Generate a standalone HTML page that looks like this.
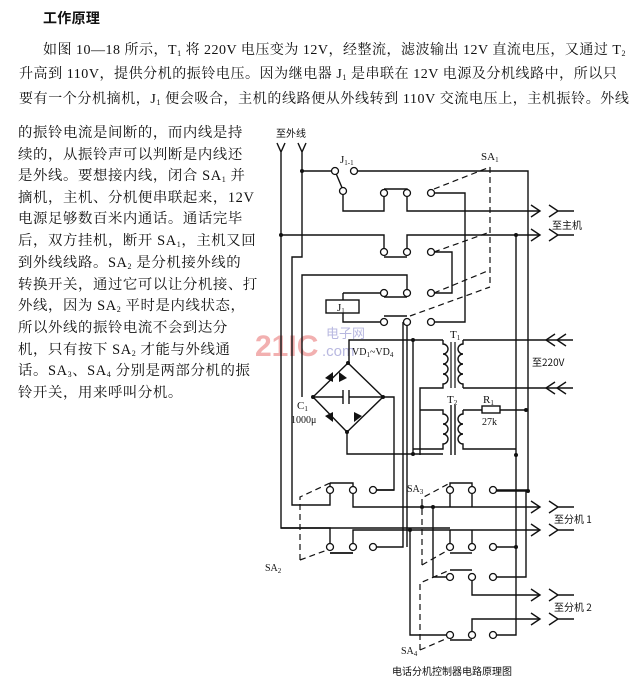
<!DOCTYPE html>
<html><head><meta charset="utf-8"><style>
body{margin:0;width:638px;height:686px;background:#fff;overflow:hidden;position:relative;font-family:"Liberation Serif","Noto Serif CJK SC","Noto Sans CJK SC",serif;color:#111}
.t{position:absolute;font-size:14px;white-space:nowrap;letter-spacing:0.3px}
.l{position:absolute;left:18px;font-size:14.4px;white-space:nowrap;letter-spacing:0.6px}
sub{font-size:8px;vertical-align:-2px}
</style></head><body>
<div class="t" style="left:43px;top:8px;font-weight:bold;font-family:'Noto Sans CJK SC',sans-serif">工作原理</div>
<div class="t" style="left:43px;top:39px;letter-spacing:0.5px">如图 10—18 所示，T<sub>1</sub> 将 220V 电压变为 12V，经整流，滤波输出 12V 直流电压，又通过 T<sub>2</sub></div>
<div class="t" style="left:19px;top:63px;letter-spacing:0.55px">升高到 110V，提供分机的振铃电压。因为继电器 J<sub>1</sub> 是串联在 12V 电源及分机线路中，所以只</div>
<div class="t" style="left:19px;top:88px;letter-spacing:0.6px">要有一个分机摘机，J<sub>1</sub> 便会吸合，主机的线路便从外线转到 110V 交流电压上，主机振铃。外线</div>
<div class="l" style="top:121px">的振铃电流是间断的，而内线是持</div>
<div class="l" style="top:143px">续的，从振铃声可以判断是内线还</div>
<div class="l" style="top:164px">是外线。要想接内线，闭合 SA<sub>1</sub> 并</div>
<div class="l" style="top:186px">摘机，主机、分机便串联起来，12V</div>
<div class="l" style="top:207px">电源足够数百米内通话。通话完毕</div>
<div class="l" style="top:229px">后，双方挂机，断开 SA<sub>1</sub>，主机又回</div>
<div class="l" style="top:251px">到外线线路。SA<sub>2</sub> 是分机接外线的</div>
<div class="l" style="top:273px">转换开关，通过它可以让分机接、打</div>
<div class="l" style="top:294px">外线，因为 SA<sub>2</sub> 平时是内线状态，</div>
<div class="l" style="top:316px">所以外线的振铃电流不会到达分</div>
<div class="l" style="top:338px">机，只有按下 SA<sub>2</sub> 才能与外线通</div>
<div class="l" style="top:359px">话。SA<sub>3</sub>、SA<sub>4</sub> 分别是两部分机的振</div>
<div class="l" style="top:381px">铃开关，用来呼叫分机。</div>

<svg width="638" height="686" style="position:absolute;left:0;top:0" xmlns="http://www.w3.org/2000/svg">
<text x="255" y="356" font-family="Liberation Sans,sans-serif" font-weight="bold" font-size="30" fill="#f2b0b0">21IC</text>
<text x="326" y="338" font-family="Noto Sans CJK SC,sans-serif" font-size="13" fill="#b8b8e0">电子网</text>
<text x="322" y="356" font-family="Liberation Sans,sans-serif" font-size="15" fill="#b8b8e0">.com</text>
<g fill="none" stroke="#111" stroke-width="1.4">
<path d="M277,143 L281,152 L285,143 M281,152 V528 H450"/>
<path d="M298,143 L302,152 L306,143 M302,152 V257 H292 V505 H330 V490"/>
<path d="M302,171 H335 M335,171 L343,190 M354,171 H528 V491 H493"/>
<path d="M343,191 V211 H384 V193 M384,189 H407 V193 M407,197 V211 H540"/>
<path d="M431,193 H465 V322 H431"/>
<path d="M281,235 H384 V252 M407,252 V235 H540 M384,257 H407 M431,252 H452 V293 H431"/>
<path d="M516,235 V635 H493"/>
<path d="M302,397 V275 H407 V293 M343,293 H384 M384,297 H407 M343,293 V300 M343,313 V322 H384 M384,316 H407"/>
<rect x="326" y="300" width="33" height="13"/>
<path d="M407,322 V547 M349,363 V340 H443"/>
<path d="M413,340 V455"/>
<path d="M348,363 L313,397 L347,432 L383,397 Z"/>
<path d="M313,397 H343 M349,397 H383 M343,390 V404 M349,390 V404"/>
<path d="M383,397 H394 V490 H373 M347,432 V454 H443"/>
<path d="M443,340 v4 a5,5 0 0 1 0,10 a5,5 0 0 1 0,10 a5,5 0 0 1 0,10 a5,5 0 0 1 0,10 v4 H420 V455 M463,340 v4 a5,5 0 0 0 0,10 a5,5 0 0 0 0,10 a5,5 0 0 0 0,10 a5,5 0 0 0 0,10 v4"/>
<path d="M451,342 V388 M455,342 V388" stroke-width="1.2"/>
<path d="M463,340 H573 M463,388 H573"/>
<path d="M420,410 H443 v4 a5,5 0 0 1 0,10 a5,5 0 0 1 0,10 a5,5 0 0 1 0,10 v5 H413 M463,410 v4 a5,5 0 0 0 0,10 a5,5 0 0 0 0,10 a5,5 0 0 0 0,10 v5 H516 M451,405 V455 M455,405 V455"/>
<path d="M463,410 H482 M500,410 H528"/>
<rect x="482" y="406" width="18" height="7"/>
<path d="M330,490 V483 M330,483 H353 V490 M353,494 V507 H540 M373,490 H394"/>
<path d="M281,528 H330 V547 M353,547 V530 H540 M330,553 H353 M373,547 H403 V322"/>
<path d="M450,490 V483 H472 V490 M450,494 V507 M472,494 V507 M493,490 H528 M450,547 V530 M472,547 V530 M493,547 H516"/>
<path d="M433,507 V577 H450 M410,530 V635 H450 M472,581 V595 H540 M472,631 V619 H540 M493,577 H526 V491 M450,570 H472"/>
<path d="M330,553 H353 M450,553 H472 M450,640 H472"/>
<path d="M531,205 L540,211 L531,217 M549,205 L558,211 L549,217 M558,211 H574"/>
<path d="M531,229 L540,235 L531,241 M549,229 L558,235 L549,241 M558,235 H574"/>
<path d="M531,501 L540,507 L531,513 M549,501 L558,507 L549,513 M558,507 H574"/>
<path d="M531,524 L540,530 L531,536 M549,524 L558,530 L549,536 M558,530 H574"/>
<path d="M531,589 L540,595 L531,601 M549,589 L558,595 L549,601 M558,595 H574"/>
<path d="M531,613 L540,619 L531,625 M549,613 L558,619 L549,625 M558,619 H574"/>
<path d="M555,334 L546,340 L555,346 M566,334 L557,340 L566,346"/>
<path d="M555,382 L546,388 L555,394 M566,382 L557,388 L566,394"/>
<g stroke-dasharray="6,4" stroke-width="1.2">
<path d="M490,167 V287 M434,189 L490,167 M434,252 L490,232 M434,293 L490,270 M410,316 L490,287"/>
<path d="M300,560 V497 L330,483 M300,560 L330,549"/>
<path d="M422,565 V498 L450,483 M422,565 L450,549"/>
<path d="M420,650 V583 L450,570 M420,650 L450,637"/>
</g>
</g>
<g fill="#111">
<path d="M325,378 l8,-6 l0,10 z M339,372 l8,6 l-8,4 z M325,416 l8,6 l0,-10 z M362,416 l-8,6 l0,-10 z"/>
</g>
<g fill="#111">
<circle cx="302" cy="171" r="2"/><circle cx="281" cy="235" r="2"/><circle cx="516" cy="235" r="2"/>
<circle cx="413" cy="340" r="2"/><circle cx="313" cy="397" r="2"/><circle cx="383" cy="397" r="2"/>
<circle cx="348" cy="363" r="2"/><circle cx="347" cy="432" r="2"/><circle cx="526" cy="410" r="2"/>
<circle cx="413" cy="454" r="2"/><circle cx="516" cy="455" r="2"/><circle cx="528" cy="491" r="2"/>
<circle cx="422" cy="507" r="2"/><circle cx="433" cy="507" r="2"/><circle cx="410" cy="530" r="2"/><circle cx="516" cy="547" r="2"/>
</g>
<g fill="#fff" stroke="#111" stroke-width="1.3">
<circle cx="335" cy="171" r="3.5"/><circle cx="354" cy="171" r="3.5"/><circle cx="343" cy="191" r="3.5"/>
<circle cx="384" cy="193" r="3.5"/><circle cx="407" cy="193" r="3.5"/><circle cx="431" cy="193" r="3.5"/>
<circle cx="384" cy="252" r="3.5"/><circle cx="407" cy="252" r="3.5"/><circle cx="431" cy="252" r="3.5"/>
<circle cx="384" cy="293" r="3.5"/><circle cx="407" cy="293" r="3.5"/><circle cx="431" cy="293" r="3.5"/>
<circle cx="384" cy="322" r="3.5"/><circle cx="407" cy="322" r="3.5"/><circle cx="431" cy="322" r="3.5"/>
<circle cx="330" cy="490" r="3.5"/><circle cx="353" cy="490" r="3.5"/><circle cx="373" cy="490" r="3.5"/>
<circle cx="330" cy="547" r="3.5"/><circle cx="353" cy="547" r="3.5"/><circle cx="373" cy="547" r="3.5"/>
<circle cx="450" cy="490" r="3.5"/><circle cx="472" cy="490" r="3.5"/><circle cx="493" cy="490" r="3.5"/>
<circle cx="450" cy="547" r="3.5"/><circle cx="472" cy="547" r="3.5"/><circle cx="493" cy="547" r="3.5"/>
<circle cx="450" cy="577" r="3.5"/><circle cx="472" cy="577" r="3.5"/><circle cx="493" cy="577" r="3.5"/>
<circle cx="450" cy="635" r="3.5"/><circle cx="472" cy="635" r="3.5"/><circle cx="493" cy="635" r="3.5"/>
</g>
<g font-family="Liberation Serif,Noto Serif CJK SC,serif" font-size="11" fill="#111">
<text x="276" y="137" font-family="Noto Sans CJK SC,sans-serif" font-size="10">至外线</text>
<text x="340" y="163">J<tspan font-size="7" dy="2">1-1</tspan></text>
<text x="481" y="160">SA<tspan font-size="7" dy="2">1</tspan></text>
<text x="337" y="311">J<tspan font-size="7" dy="2">1</tspan></text>
<text x="552" y="229" font-family="Noto Sans CJK SC,sans-serif" font-size="10">至主机</text>
<text x="450" y="338">T<tspan font-size="7" dy="2">1</tspan></text>
<text x="532" y="366" font-family="Noto Sans CJK SC,sans-serif" font-size="10">至220V</text>
<text x="352" y="355" font-size="10">VD<tspan font-size="7" dy="2">1</tspan><tspan dy="-2">~VD</tspan><tspan font-size="7" dy="2">4</tspan></text>
<text x="297" y="409">C<tspan font-size="7" dy="2">1</tspan></text>
<text x="291" y="423" font-size="10">1000μ</text>
<text x="447" y="403">T<tspan font-size="7" dy="2">2</tspan></text>
<text x="483" y="403">R<tspan font-size="7" dy="2">1</tspan></text>
<text x="482" y="425" font-size="10">27k</text>
<text x="407" y="492" font-size="10">SA<tspan font-size="7" dy="2">3</tspan></text>
<text x="265" y="571" font-size="10">SA<tspan font-size="7" dy="2">2</tspan></text>
<text x="401" y="654" font-size="10">SA<tspan font-size="7" dy="2">4</tspan></text>
<text x="554" y="523" font-family="Noto Sans CJK SC,sans-serif" font-size="10">至分机 1</text>
<text x="554" y="611" font-family="Noto Sans CJK SC,sans-serif" font-size="10">至分机 2</text>
<text x="392" y="675" font-family="Noto Sans CJK SC,sans-serif" font-size="10">电话分机控制器电路原理图</text>
</g>
</svg>
</body></html>
